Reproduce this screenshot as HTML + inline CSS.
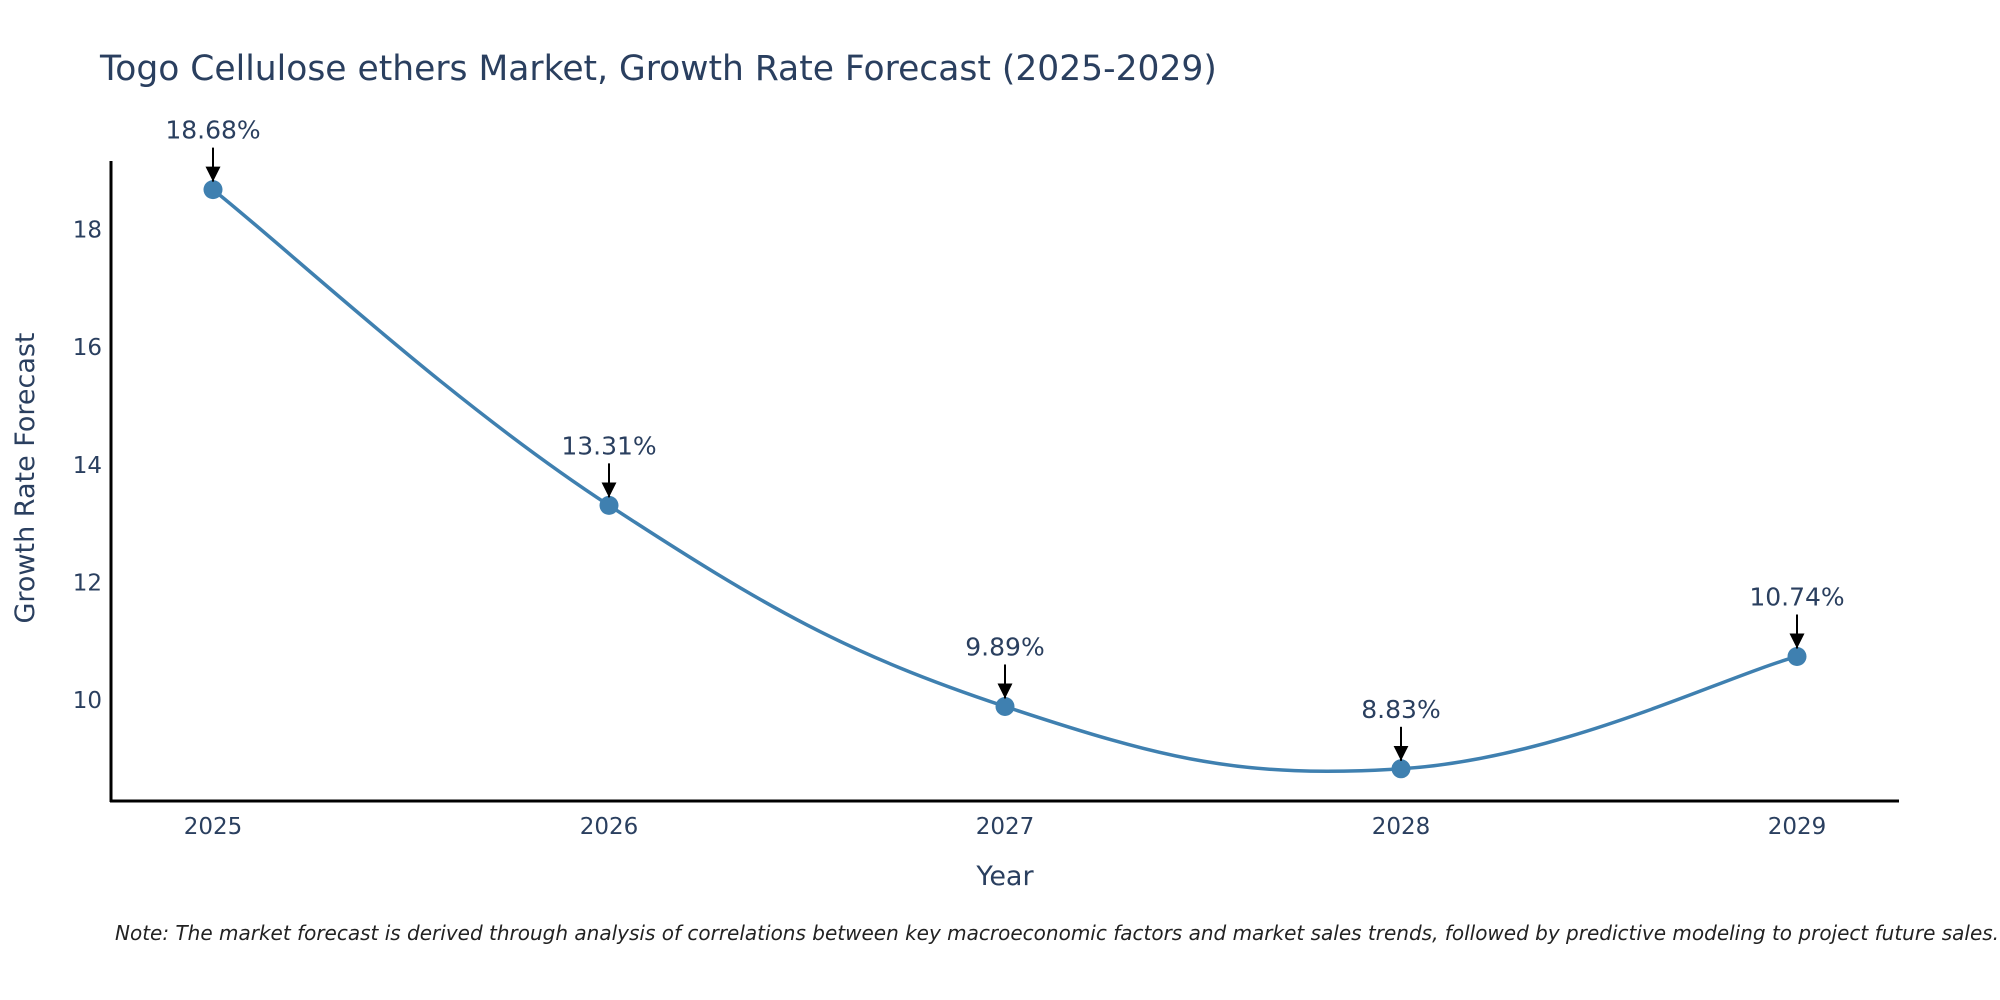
<!DOCTYPE html>
<html><head><meta charset="utf-8"><style>
html,body{margin:0;padding:0;background:#fff;width:2000px;height:1000px;overflow:hidden}
svg text{font-family:"DejaVu Sans","Liberation Sans",sans-serif;fill:#2a3f5f}
</style></head><body>
<svg id="chart" width="2000" height="1000" xmlns="http://www.w3.org/2000/svg">
<defs><marker id="ah" viewBox="0 0 10 10" refX="10" refY="5" markerUnits="userSpaceOnUse" markerWidth="15" markerHeight="15" orient="auto"><path d="M0,0 L10,5 L0,10 z" fill="#000"/></marker></defs>
<text x="100" y="80" font-size="34.5">Togo Cellulose ethers Market, Growth Rate Forecast (2025-2029)</text>
<line x1="111" y1="161" x2="111" y2="802" stroke="#000" stroke-width="3"/>
<line x1="110" y1="801" x2="1899" y2="801" stroke="#000" stroke-width="3"/>
<g id="ticks"></g>
<path id="line" fill="none" stroke="#3f80b0" stroke-width="3.5"/>
<g id="marks"></g>
<text transform="translate(34,478) rotate(-90)" text-anchor="middle" font-size="27">Growth Rate Forecast</text>
<text x="1005" y="885" text-anchor="middle" font-size="27">Year</text>
<text x="115" y="940" font-size="20" font-style="italic" style="fill:#222">Note: The market forecast is derived through analysis of correlations between key macroeconomic factors and market sales trends, followed by predictive modeling to project future sales.</text>
</svg>
<script>
const categories=["2025","2026","2027","2028","2029"];
const values=[18.68,13.31,9.89,8.83,10.74];
const labels=["18.68%","13.31%","9.89%","8.83%","10.74%"];
const yTicks=[10,12,14,16,18];
const NS="http://www.w3.org/2000/svg";
function xs(i){return 213+i*(1797-213)/(categories.length-1);}
function ys(v){return 700-(v-10)*58.8;}
function mk(t,a,p){const e=document.createElementNS(NS,t);for(const k in a)e.setAttribute(k,a[k]);p.appendChild(e);return e;}
const tk=document.getElementById('ticks');
yTicks.forEach(v=>{const t=mk('text',{x:102,y:ys(v)+8,'text-anchor':'end','font-size':23},tk);t.textContent=v;

});
categories.forEach((c,i)=>{const t=mk('text',{x:xs(i),y:834,'text-anchor':'middle','font-size':23},tk);t.textContent=c;

});
const P=values.map((v,i)=>[xs(i),ys(v)]);
let d="M"+P[0][0]+","+P[0][1];
const s=0.2;
for(let i=0;i<P.length-1;i++){const p0=P[Math.max(i-1,0)],p1=P[i],p2=P[i+1],p3=P[Math.min(i+2,P.length-1)];
const c1=[p1[0]+(p2[0]-p0[0])*s,p1[1]+(p2[1]-p0[1])*s],c2=[p2[0]-(p3[0]-p1[0])*s,p2[1]-(p3[1]-p1[1])*s];
d+=` C${c1[0]},${c1[1]} ${c2[0]},${c2[1]} ${p2[0]},${p2[1]}`;}
document.getElementById('line').setAttribute('d',d);
const mg=document.getElementById('marks');
P.forEach((p,i)=>{const c=mk('circle',{cx:p[0],cy:p[1],r:9.5,fill:'#3f80b0'},mg);


const a=mk('line',{x1:p[0],y1:p[1]-42,x2:p[0],y2:p[1]-8,stroke:'#000','stroke-width':2,'marker-end':'url(#ah)'},mg);


const t=mk('text',{x:p[0],y:p[1]-51,'text-anchor':'middle','font-size':25},mg);t.textContent=labels[i];

});
</script>
</body></html>
